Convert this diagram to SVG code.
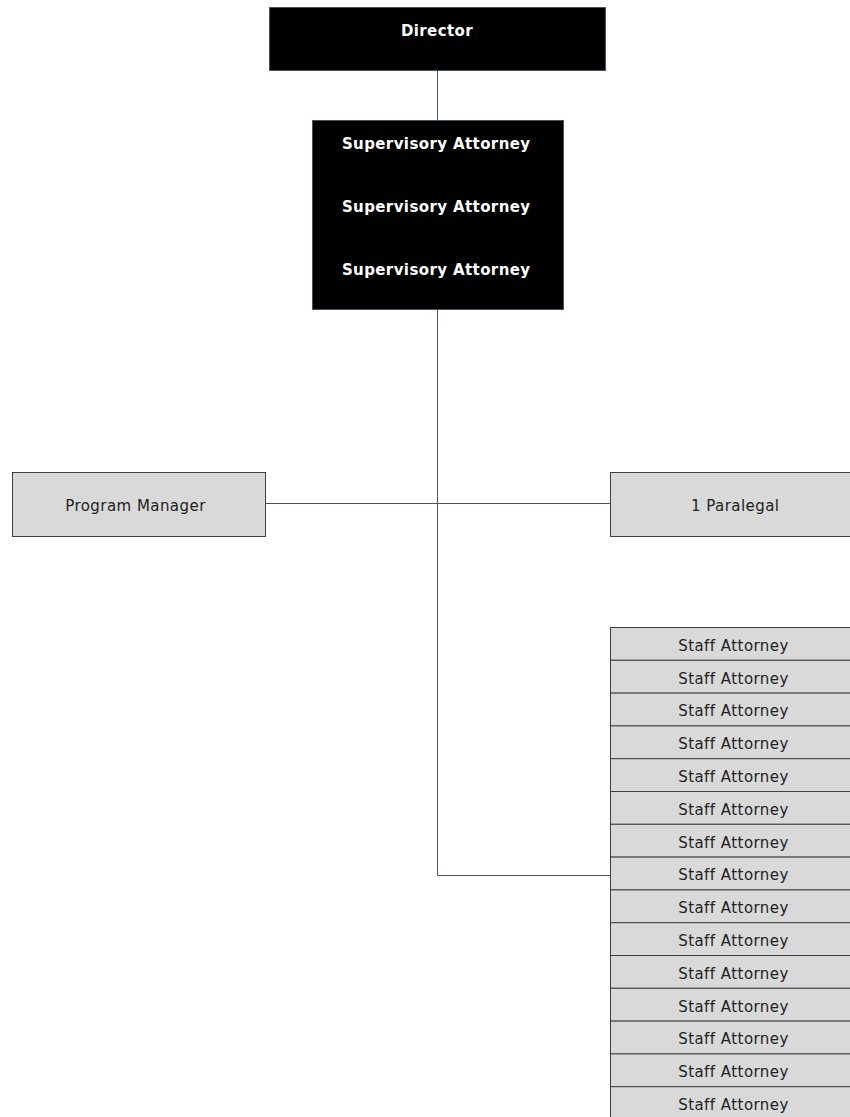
<svg xmlns="http://www.w3.org/2000/svg" width="850" height="1117" viewBox="0 0 850 1117">
<style>
.dark{fill:#000;stroke:#44546a;stroke-width:1}
.light{fill:#d9d9d9;stroke:#404040;stroke-width:1}
.tb{font-family:"DejaVu Sans",Verdana,sans-serif;font-weight:bold;font-size:15px;letter-spacing:0.4px;fill:#fff;text-anchor:middle}
.tl{font-family:"DejaVu Sans",Verdana,sans-serif;font-size:15px;letter-spacing:0.45px;fill:#222;text-anchor:middle}
.conn{fill:none;stroke:#44546a;stroke-width:1}
</style>
<g id="connectors">
<path class="conn" d="M437.5,70 V120"/>
<path class="conn" d="M437.5,309 V875.5 H610"/>
<path class="conn" d="M266,503.5 H610"/>
</g>
<g id="director">
<rect class="dark" x="269.5" y="7.5" width="336" height="63"/>
<text class="tb" x="437" y="35.5">Director</text>
</g>
<g id="supervisory">
<rect class="dark" x="312.5" y="120.5" width="251" height="189"/>
<text class="tb" x="436.2" y="148.5">Supervisory Attorney</text>
<text class="tb" x="436.2" y="211.7">Supervisory Attorney</text>
<text class="tb" x="436.2" y="274.7">Supervisory Attorney</text>
</g>
<g id="program-manager">
<rect class="light" x="12.5" y="472.5" width="253" height="64"/>
<text class="tl" x="135.5" y="510.7">Program Manager</text>
</g>
<g id="paralegal">
<rect class="light" x="610.5" y="472.5" width="250" height="64"/>
<text class="tl" x="735.2" y="510.7">1 Paralegal</text>
</g>
<g id="staff-attorneys">
<rect class="light" x="610.5" y="627.5" width="250" height="32.8"/>
<rect class="light" x="610.5" y="660.3" width="250" height="32.8"/>
<rect class="light" x="610.5" y="693.1" width="250" height="32.8"/>
<rect class="light" x="610.5" y="725.9" width="250" height="32.8"/>
<rect class="light" x="610.5" y="758.7" width="250" height="32.8"/>
<rect class="light" x="610.5" y="791.5" width="250" height="32.8"/>
<rect class="light" x="610.5" y="824.3" width="250" height="32.8"/>
<rect class="light" x="610.5" y="857.1" width="250" height="32.8"/>
<rect class="light" x="610.5" y="889.9" width="250" height="32.8"/>
<rect class="light" x="610.5" y="922.7" width="250" height="32.8"/>
<rect class="light" x="610.5" y="955.5" width="250" height="32.8"/>
<rect class="light" x="610.5" y="988.3" width="250" height="32.8"/>
<rect class="light" x="610.5" y="1021.1" width="250" height="32.8"/>
<rect class="light" x="610.5" y="1053.9" width="250" height="32.8"/>
<rect class="light" x="610.5" y="1086.7" width="250" height="32.8"/>
<text class="tl" x="733.5" y="650.7">Staff Attorney</text>
<text class="tl" x="733.5" y="683.5">Staff Attorney</text>
<text class="tl" x="733.5" y="716.3">Staff Attorney</text>
<text class="tl" x="733.5" y="749.1">Staff Attorney</text>
<text class="tl" x="733.5" y="781.9">Staff Attorney</text>
<text class="tl" x="733.5" y="814.7">Staff Attorney</text>
<text class="tl" x="733.5" y="847.5">Staff Attorney</text>
<text class="tl" x="733.5" y="880.3">Staff Attorney</text>
<text class="tl" x="733.5" y="913.1">Staff Attorney</text>
<text class="tl" x="733.5" y="945.9">Staff Attorney</text>
<text class="tl" x="733.5" y="978.7">Staff Attorney</text>
<text class="tl" x="733.5" y="1011.5">Staff Attorney</text>
<text class="tl" x="733.5" y="1044.3">Staff Attorney</text>
<text class="tl" x="733.5" y="1077.1">Staff Attorney</text>
<text class="tl" x="733.5" y="1109.9">Staff Attorney</text>
</g>
</svg>
